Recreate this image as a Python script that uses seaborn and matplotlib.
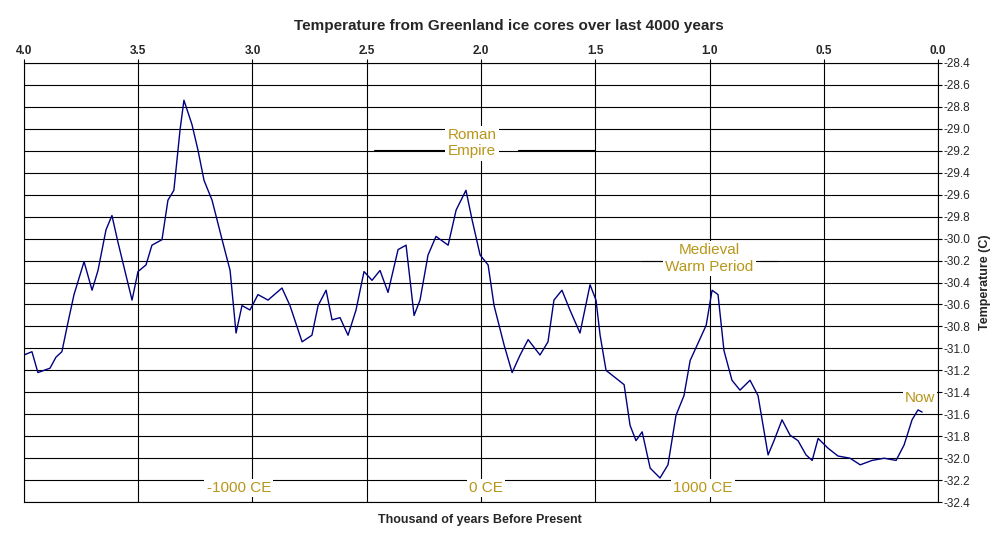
import matplotlib
matplotlib.use("Agg")
import matplotlib.pyplot as plt
import seaborn as sns
import pandas as pd

sns.set_style("white")
plt.rcParams['font.family'] = ['Liberation Sans', 'DejaVu Sans']

# thousand years before present / temperature (C)
years_bp = [4.0, 3.965, 3.939, 3.886, 3.860, 3.834, 3.807, 3.781, 3.737, 3.702, 3.676, 3.641,
            3.615, 3.589, 3.554, 3.527, 3.501, 3.466, 3.440, 3.396, 3.370, 3.344, 3.317, 3.300,
            3.265, 3.239, 3.212, 3.177, 3.133, 3.098, 3.072, 3.046, 3.011, 2.976, 2.932, 2.871,
            2.836, 2.783, 2.740, 2.713, 2.678, 2.652, 2.617, 2.582, 2.547, 2.512, 2.477, 2.442,
            2.407, 2.363, 2.328, 2.293, 2.267, 2.232, 2.197, 2.144, 2.109, 2.066, 2.039, 2.004,
            1.969, 1.943, 1.899, 1.864, 1.829, 1.794, 1.742, 1.707, 1.681, 1.646, 1.611, 1.567,
            1.523, 1.497, 1.479, 1.453, 1.374, 1.348, 1.322, 1.295, 1.260, 1.217, 1.182, 1.147,
            1.112, 1.085, 1.050, 1.015, 0.989, 0.963, 0.937, 0.902, 0.867, 0.823, 0.788, 0.744,
            0.718, 0.683, 0.648, 0.613, 0.578, 0.551, 0.525, 0.481, 0.438, 0.385, 0.341, 0.289,
            0.236, 0.184, 0.149, 0.114, 0.088, 0.070]
temps = [-31.06, -31.03, -31.22, -31.18, -31.08, -31.03, -30.76, -30.51, -30.21, -30.47, -30.29, -29.92,
         -29.79, -30.03, -30.33, -30.56, -30.30, -30.24, -30.06, -30.01, -29.65, -29.56, -29.01, -28.74,
         -28.96, -29.19, -29.47, -29.65, -30.01, -30.29, -30.86, -30.61, -30.65, -30.51, -30.56, -30.45,
         -30.61, -30.94, -30.88, -30.61, -30.47, -30.74, -30.72, -30.88, -30.65, -30.30, -30.38, -30.29,
         -30.49, -30.10, -30.06, -30.70, -30.56, -30.15, -29.98, -30.06, -29.74, -29.56, -29.83, -30.15,
         -30.24, -30.61, -30.97, -31.22, -31.06, -30.92, -31.06, -30.94, -30.56, -30.47, -30.65, -30.86,
         -30.42, -30.56, -30.88, -31.20, -31.33, -31.70, -31.84, -31.76, -32.09, -32.18, -32.06, -31.61,
         -31.43, -31.11, -30.95, -30.79, -30.47, -30.51, -31.02, -31.29, -31.38, -31.29, -31.43, -31.97,
         -31.84, -31.65, -31.79, -31.84, -31.97, -32.02, -31.82, -31.91, -31.98, -32.00, -32.06, -32.02,
         -32.00, -32.02, -31.88, -31.65, -31.56, -31.58]

x_ticks = [4.0, 3.5, 3.0, 2.5, 2.0, 1.5, 1.0, 0.5, 0.0]
y_ticks = [-28.4 - 0.2 * i for i in range(21)]

df = pd.DataFrame({"bp": years_bp, "temp": temps})
gold = "#b8961a"

fig = plt.figure(figsize=(9.98, 5.47), dpi=100)
ax = fig.add_axes([0.024, 0.082, 0.916, 0.803])
sns.lineplot(data=df, x="bp", y="temp", ax=ax, color="#000080", linewidth=1, sort=False)

ax.set_xlim(4.0, 0.0)
ax.set_ylim(-32.4, -28.4)
ax.set_xticks(x_ticks)
ax.set_xticklabels([f"{t:.1f}" for t in x_ticks], fontweight="bold", fontsize=8.5)
ax.set_yticks(y_ticks)
ax.set_yticklabels([f"{v:.1f}" for v in y_ticks], fontsize=8.5)
ax.xaxis.tick_top()
ax.yaxis.tick_right()
ax.yaxis.set_label_position("right")
ax.tick_params(axis="both", length=3, pad=1, direction="out", color="black")
ax.grid(True, color="black", linewidth=0.8)
for s in ax.spines.values():
    s.set_color("black")
    s.set_linewidth(0.8)

ax.set_xlabel("")
ax.set_ylabel("Temperature (C)", fontweight="bold", fontsize=9, labelpad=6)
fig.text(0.481, 0.044, "Thousand of years Before Present", ha="center", fontweight="bold", fontsize=9)
fig.text(0.51, 0.945, "Temperature from Greenland ice cores over last 4000 years",
         ha="center", fontweight="bold", fontsize=11)

box = dict(facecolor="white", edgecolor="none", pad=1.5)
kw = dict(color=gold, fontsize=11, ha="center", va="center", bbox=box, zorder=5)
ax.plot([2.47, 2.14], [-29.19, -29.19], color="black", linewidth=0.8)
ax.plot([1.84, 1.50], [-29.19, -29.19], color="black", linewidth=0.8)
ax.text(2.04, -29.13, "Roman\nEmpire", linespacing=1.25, **kw)
ax.plot([1.30, 1.18], [-30.2, -30.2], color="black", linewidth=0.8)
ax.plot([0.78, 0.70], [-30.2, -30.2], color="black", linewidth=0.8)
ax.text(1.0, -30.18, "Medieval\nWarm Period", linespacing=1.25, **kw)
ax.text(0.08, -31.45, "Now", **kw)
ax.text(3.06, -32.27, "-1000 CE", **kw)
ax.text(1.98, -32.27, "0 CE", **kw)
ax.text(1.03, -32.27, "1000 CE", **kw)

fig.savefig("out.png", dpi=100)
